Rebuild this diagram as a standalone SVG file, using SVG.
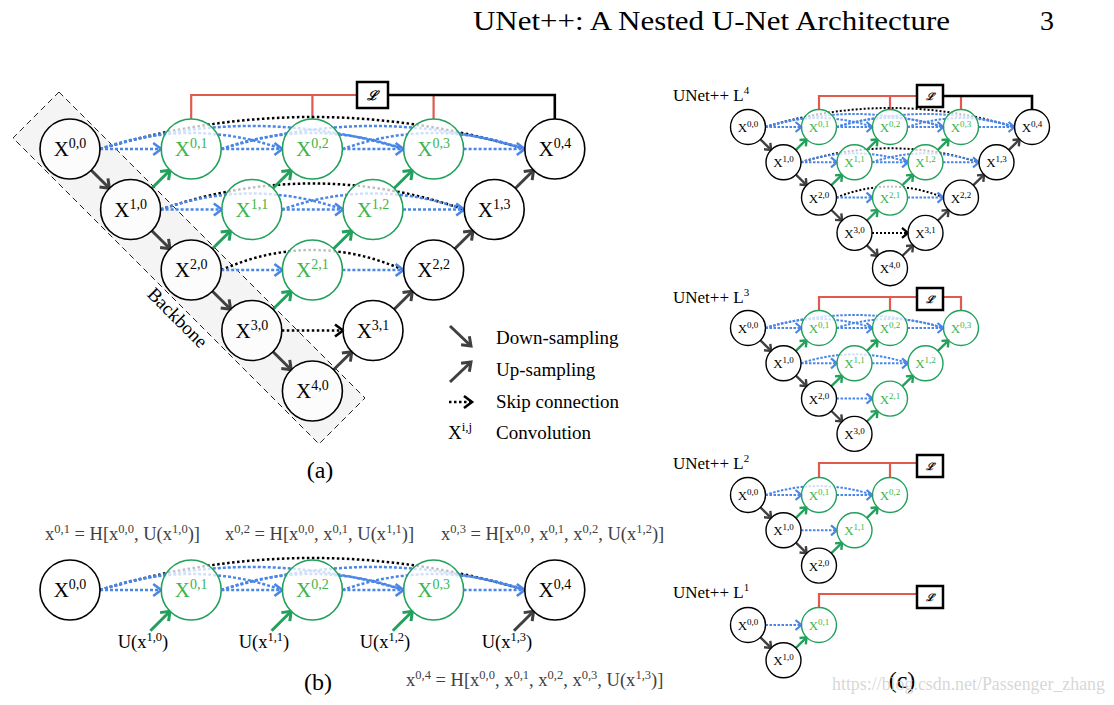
<svg xmlns="http://www.w3.org/2000/svg" width="1114" height="705" viewBox="0 0 1114 705">
<defs>
<style>
text{font-family:"Liberation Serif","Times New Roman",serif}
.nb{fill:#fff;fill-opacity:.75;stroke:#000;stroke-width:1.6}
.ng{fill:#fff;fill-opacity:.75;stroke:#22a05c;stroke-width:1.6}
.nbs{fill:#fff;fill-opacity:.75;stroke:#000;stroke-width:1.4}
.ngs{fill:#fff;fill-opacity:.75;stroke:#22a05c;stroke-width:1.4}
.lk{fill:#000;font-size:21px;text-anchor:middle}
.lg{fill:#3cb44a;font-size:21px;text-anchor:middle}
.sk{fill:#000;font-size:13px;text-anchor:middle}
.sg{fill:#3cb44a;font-size:13px;text-anchor:middle}
.dn{stroke:#404040;stroke-width:3;fill:none;marker-end:url(#mD)}
.ug{stroke:#22a05c;stroke-width:3;fill:none;marker-end:url(#mG)}
.sbl{stroke:#4a86e8;stroke-width:2.5;stroke-dasharray:3 2;fill:none}
.sba{stroke:#4a86e8;stroke-width:2.5;stroke-dasharray:3 2;fill:none;marker-end:url(#mB)}
.skl{stroke:#000;stroke-width:2.5;stroke-dasharray:2.5 2.5;fill:none}
.ska{stroke:#000;stroke-width:2.5;stroke-dasharray:2.5 2.5;fill:none;marker-end:url(#mK)}
.dns{stroke:#404040;stroke-width:2.4;fill:none;marker-end:url(#sD)}
.ugs{stroke:#22a05c;stroke-width:2.4;fill:none;marker-end:url(#sG)}
.sbs{stroke:#4a86e8;stroke-width:2;stroke-dasharray:2.5 1.5;fill:none}
.sbsa{stroke:#4a86e8;stroke-width:2;stroke-dasharray:2.5 1.5;fill:none;marker-end:url(#sB)}
.sks{stroke:#000;stroke-width:2;stroke-dasharray:2 2;fill:none}
.sksa{stroke:#000;stroke-width:2;stroke-dasharray:2 2;fill:none;marker-end:url(#sK)}
.red{stroke:#e05a4f;stroke-width:2.2;fill:none}
.blk{stroke:#000;stroke-width:2.6;fill:none}
.box{fill:#fff;stroke:#000;stroke-width:2.5}
.ll{font-family:"DejaVu Serif",serif;font-style:italic;font-weight:bold;text-anchor:middle;fill:#000}
.eq{fill:#404040;font-size:18.5px}
.ul{fill:#000;font-size:18.5px;text-anchor:middle}
.lgd{fill:#000;font-size:19px}
.cap{fill:#000;font-size:24px;text-anchor:middle}
.un{fill:#000;font-size:17px}
.hd{fill:#000;font-size:28px;font-family:"Liberation Serif","Times New Roman",serif}
</style>
<marker id="mD" viewBox="-11 -8 13 16" markerWidth="13" markerHeight="16" refX="0" refY="0" orient="auto" markerUnits="userSpaceOnUse" overflow="visible"><path d="M-8,-6 L0,0 L-8,6" fill="none" stroke="#404040" stroke-width="3"/></marker>
<marker id="mG" viewBox="-11 -8 13 16" markerWidth="13" markerHeight="16" refX="0" refY="0" orient="auto" markerUnits="userSpaceOnUse" overflow="visible"><path d="M-8,-6 L0,0 L-8,6" fill="none" stroke="#22a05c" stroke-width="3"/></marker>
<marker id="mB" viewBox="-11 -8 13 16" markerWidth="13" markerHeight="16" refX="0" refY="0" orient="auto" markerUnits="userSpaceOnUse" overflow="visible"><path d="M-8,-6 L0,0 L-8,6" fill="none" stroke="#4a86e8" stroke-width="2.6"/></marker>
<marker id="mK" viewBox="-11 -8 13 16" markerWidth="13" markerHeight="16" refX="0" refY="0" orient="auto" markerUnits="userSpaceOnUse" overflow="visible"><path d="M-8,-6 L0,0 L-8,6" fill="none" stroke="#000" stroke-width="2.6"/></marker>
<marker id="sD" viewBox="-8 -6 10 12" markerWidth="10" markerHeight="12" refX="0" refY="0" orient="auto" markerUnits="userSpaceOnUse" overflow="visible"><path d="M-5.5,-4.5 L0,0 L-5.5,4.5" fill="none" stroke="#404040" stroke-width="2.4"/></marker>
<marker id="sG" viewBox="-8 -6 10 12" markerWidth="10" markerHeight="12" refX="0" refY="0" orient="auto" markerUnits="userSpaceOnUse" overflow="visible"><path d="M-5.5,-4.5 L0,0 L-5.5,4.5" fill="none" stroke="#22a05c" stroke-width="2.4"/></marker>
<marker id="sB" viewBox="-8 -6 10 12" markerWidth="10" markerHeight="12" refX="0" refY="0" orient="auto" markerUnits="userSpaceOnUse" overflow="visible"><path d="M-6,-5 L0,0 L-6,5" fill="none" stroke="#4a86e8" stroke-width="2.2"/></marker>
<marker id="sK" viewBox="-8 -6 10 12" markerWidth="10" markerHeight="12" refX="0" refY="0" orient="auto" markerUnits="userSpaceOnUse" overflow="visible"><path d="M-6,-5 L0,0 L-6,5" fill="none" stroke="#000" stroke-width="2.2"/></marker>
</defs>
<rect width="1114" height="705" fill="#fff"/>

<!-- header -->
<text class="hd" x="473" y="30" textLength="477" lengthAdjust="spacingAndGlyphs">UNet++: A Nested U-Net Architecture</text>
<text class="hd" x="1040" y="30">3</text>

<!-- (a) backbone -->
<g id="backbone">
<polygon points="59,92 365,398 319,444 13,138" fill="#f4f4f4" stroke="#222" stroke-width="1" stroke-dasharray="6 4"/>
<text transform="translate(173,322) rotate(45)" font-size="19" text-anchor="middle" fill="#000">Backbone</text>
</g>

<!-- (a) loss -->
<g id="a-loss">
<path class="red" d="M191.2,119 V95 H357 M312.4,95 V119 M433.6,96 V119"/>
<path class="blk" d="M388,95 H554.8 V119"/>
<rect class="box" x="357" y="82" width="31" height="26"/>
<text class="ll" x="372.5" y="100" font-size="13">ℒ</text>
</g>

<g id="a-connectors">
<!-- row 0 -->
<path class="skl" d="M100,149 Q312.4,85 524.8,149"/>
<path class="sbl" d="M100,149 Q251.8,103 403.6,149"/>
<path class="sbl" d="M221.2,149 Q373,103 524.8,149"/>
<path class="sbl" d="M100,149 Q191.2,117 282.4,149"/>
<path class="sbl" d="M221.2,149 Q312.4,117 403.6,149"/>
<path class="sbl" d="M342.4,149 Q433.6,117 524.8,149"/>
<path class="sba" d="M100,149 H161.2"/>
<path class="sba" d="M221.2,149 H282.4"/>
<path class="sba" d="M342.4,149 H403.6"/>
<path class="sba" d="M463.6,149 H524.8"/>
<!-- row 1 -->
<path class="skl" d="M160.6,209.5 Q312.4,157.5 464.2,209.5"/>
<path class="sbl" d="M160.6,209.5 Q251.8,177.5 343,209.5"/>
<path class="sbl" d="M281.8,209.5 Q373,177.5 464.2,209.5"/>
<path class="sba" d="M160.6,209.5 H221.8"/>
<path class="sba" d="M281.8,209.5 H343"/>
<path class="sba" d="M403,209.5 H464.2"/>
<!-- row 2 -->
<path class="skl" d="M221.2,270 Q312.4,230 403.6,270"/>
<path class="sba" d="M221.2,270 H282.4"/>
<path class="sba" d="M342.4,270 H403.6"/>
<!-- row 3 -->
<path class="ska" d="M281.8,330.5 H343"/>
<!-- down -->
<path class="dn" d="M91.2,170.2 L109.4,188.3"/>
<path class="dn" d="M151.8,230.7 L170,248.8"/>
<path class="dn" d="M212.4,291.2 L230.6,309.3"/>
<path class="dn" d="M273,351.7 L291.2,369.8"/>
<!-- up green -->
<path class="ug" d="M151.8,188.3 L170,170.2"/>
<path class="ug" d="M212.4,248.8 L230.6,230.7"/>
<path class="ug" d="M273,188.3 L291.2,170.2"/>
<path class="ug" d="M273,309.3 L291.2,291.2"/>
<path class="ug" d="M333.6,248.8 L351.8,230.7"/>
<path class="ug" d="M394.2,188.3 L412.4,170.2"/>
<!-- up gray -->
<path class="dn" d="M333.6,369.8 L351.8,351.7"/>
<path class="dn" d="M394.2,309.3 L412.4,291.2"/>
<path class="dn" d="M454.8,248.8 L473,230.7"/>
<path class="dn" d="M515.4,188.3 L533.6,170.2"/>
</g>

<g id="a-x00"><circle class="nb" cx="70" cy="149" r="30"/><text class="lk" x="70" y="156">X<tspan dy="-8" font-size="14">0,0</tspan></text></g>
<g id="a-x10"><circle class="nb" cx="130.6" cy="209.5" r="30"/><text class="lk" x="130.6" y="216.5">X<tspan dy="-8" font-size="14">1,0</tspan></text></g>
<g id="a-x20"><circle class="nb" cx="191.2" cy="270" r="30"/><text class="lk" x="191.2" y="277">X<tspan dy="-8" font-size="14">2,0</tspan></text></g>
<g id="a-x30"><circle class="nb" cx="251.8" cy="330.5" r="30"/><text class="lk" x="251.8" y="337.5">X<tspan dy="-8" font-size="14">3,0</tspan></text></g>
<g id="a-x40"><circle class="nb" cx="312.4" cy="391" r="30"/><text class="lk" x="312.4" y="398">X<tspan dy="-8" font-size="14">4,0</tspan></text></g>
<g id="a-x01"><circle class="ng" cx="191.2" cy="149" r="30"/><text class="lg" x="191.2" y="156">X<tspan dy="-8" font-size="14">0,1</tspan></text></g>
<g id="a-x02"><circle class="ng" cx="312.4" cy="149" r="30"/><text class="lg" x="312.4" y="156">X<tspan dy="-8" font-size="14">0,2</tspan></text></g>
<g id="a-x03"><circle class="ng" cx="433.6" cy="149" r="30"/><text class="lg" x="433.6" y="156">X<tspan dy="-8" font-size="14">0,3</tspan></text></g>
<g id="a-x04"><circle class="nb" cx="554.8" cy="149" r="30"/><text class="lk" x="554.8" y="156">X<tspan dy="-8" font-size="14">0,4</tspan></text></g>
<g id="a-x11"><circle class="ng" cx="251.8" cy="209.5" r="30"/><text class="lg" x="251.8" y="216.5">X<tspan dy="-8" font-size="14">1,1</tspan></text></g>
<g id="a-x12"><circle class="ng" cx="373" cy="209.5" r="30"/><text class="lg" x="373" y="216.5">X<tspan dy="-8" font-size="14">1,2</tspan></text></g>
<g id="a-x13"><circle class="nb" cx="494.2" cy="209.5" r="30"/><text class="lk" x="494.2" y="216.5">X<tspan dy="-8" font-size="14">1,3</tspan></text></g>
<g id="a-x21"><circle class="ng" cx="312.4" cy="270" r="30"/><text class="lg" x="312.4" y="277">X<tspan dy="-8" font-size="14">2,1</tspan></text></g>
<g id="a-x22"><circle class="nb" cx="433.6" cy="270" r="30"/><text class="lk" x="433.6" y="277">X<tspan dy="-8" font-size="14">2,2</tspan></text></g>
<g id="a-x31"><circle class="nb" cx="373" cy="330.5" r="30"/><text class="lk" x="373" y="337.5">X<tspan dy="-8" font-size="14">3,1</tspan></text></g>

<!-- legend -->
<g id="legend">
<path class="dn" d="M450,326 L471,346"/>
<text class="lgd" x="496" y="344">Down-sampling</text>
<path class="dn" d="M450,382 L471,362"/>
<text class="lgd" x="496" y="376">Up-sampling</text>
<path class="ska" d="M449,402 H472"/>
<text class="lgd" x="496" y="408">Skip connection</text>
<text class="lgd" x="448" y="439">X<tspan dy="-8" font-size="13">i,j</tspan></text>
<text class="lgd" x="496" y="439">Convolution</text>
</g>
<text class="cap" x="320" y="478">(a)</text>

<!-- (b) -->
<g id="b-equations">
<text class="eq" x="45" y="540">x<tspan dy="-7" font-size="12.5">0,1</tspan><tspan dy="7"> = H[x</tspan><tspan dy="-7" font-size="12.5">0,0</tspan><tspan dy="7">, U(x</tspan><tspan dy="-7" font-size="12.5">1,0</tspan><tspan dy="7">)]</tspan></text>
<text class="eq" x="225" y="540">x<tspan dy="-7" font-size="12.5">0,2</tspan><tspan dy="7"> = H[x</tspan><tspan dy="-7" font-size="12.5">0,0</tspan><tspan dy="7">, x</tspan><tspan dy="-7" font-size="12.5">0,1</tspan><tspan dy="7">, U(x</tspan><tspan dy="-7" font-size="12.5">1,1</tspan><tspan dy="7">)]</tspan></text>
<text class="eq" x="441" y="540">x<tspan dy="-7" font-size="12.5">0,3</tspan><tspan dy="7"> = H[x</tspan><tspan dy="-7" font-size="12.5">0,0</tspan><tspan dy="7">, x</tspan><tspan dy="-7" font-size="12.5">0,1</tspan><tspan dy="7">, x</tspan><tspan dy="-7" font-size="12.5">0,2</tspan><tspan dy="7">, U(x</tspan><tspan dy="-7" font-size="12.5">1,2</tspan><tspan dy="7">)]</tspan></text>
<text class="eq" x="406" y="686">x<tspan dy="-7" font-size="12.5">0,4</tspan><tspan dy="7"> = H[x</tspan><tspan dy="-7" font-size="12.5">0,0</tspan><tspan dy="7">, x</tspan><tspan dy="-7" font-size="12.5">0,1</tspan><tspan dy="7">, x</tspan><tspan dy="-7" font-size="12.5">0,2</tspan><tspan dy="7">, x</tspan><tspan dy="-7" font-size="12.5">0,3</tspan><tspan dy="7">, U(x</tspan><tspan dy="-7" font-size="12.5">1,3</tspan><tspan dy="7">)]</tspan></text>
</g>
<g id="b-connectors">
<path class="skl" d="M100,590 Q312.4,526 524.8,590"/>
<path class="sbl" d="M100,590 Q251.8,544 403.6,590"/>
<path class="sbl" d="M221.2,590 Q373,544 524.8,590"/>
<path class="sbl" d="M100,590 Q191.2,558 282.4,590"/>
<path class="sbl" d="M221.2,590 Q312.4,558 403.6,590"/>
<path class="sbl" d="M342.4,590 Q433.6,558 524.8,590"/>
<path class="sba" d="M100,590 H161.2"/>
<path class="sba" d="M221.2,590 H282.4"/>
<path class="sba" d="M342.4,590 H403.6"/>
<path class="sba" d="M463.6,590 H524.8"/>
<path class="ug" d="M150.4,630.8 L170,611.2"/>
<path class="ug" d="M271.6,630.8 L291.2,611.2"/>
<path class="ug" d="M392.8,630.8 L412.4,611.2"/>
<path class="dn" d="M514,630.8 L533.6,611.2"/>
</g>
<g id="b-x00"><circle class="nb" cx="70" cy="590" r="30"/><text class="lk" x="70" y="597">X<tspan dy="-8" font-size="14">0,0</tspan></text></g>
<g id="b-x01"><circle class="ng" cx="191.2" cy="590" r="30"/><text class="lg" x="191.2" y="597">X<tspan dy="-8" font-size="14">0,1</tspan></text></g>
<g id="b-x02"><circle class="ng" cx="312.4" cy="590" r="30"/><text class="lg" x="312.4" y="597">X<tspan dy="-8" font-size="14">0,2</tspan></text></g>
<g id="b-x03"><circle class="ng" cx="433.6" cy="590" r="30"/><text class="lg" x="433.6" y="597">X<tspan dy="-8" font-size="14">0,3</tspan></text></g>
<g id="b-x04"><circle class="nb" cx="554.8" cy="590" r="30"/><text class="lk" x="554.8" y="597">X<tspan dy="-8" font-size="14">0,4</tspan></text></g>
<g id="b-ulabels">
<text class="ul" x="143" y="648">U(x<tspan dy="-7" font-size="12.5">1,0</tspan><tspan dy="7">)</tspan></text>
<text class="ul" x="264" y="648">U(x<tspan dy="-7" font-size="12.5">1,1</tspan><tspan dy="7">)</tspan></text>
<text class="ul" x="385" y="648">U(x<tspan dy="-7" font-size="12.5">1,2</tspan><tspan dy="7">)</tspan></text>
<text class="ul" x="507" y="648">U(x<tspan dy="-7" font-size="12.5">1,3</tspan><tspan dy="7">)</tspan></text>
</g>
<text class="cap" x="318" y="690">(b)</text>

<!-- (c) L4 -->
<text class="un" x="673" y="101">UNet++ L<tspan dy="-7" font-size="11">4</tspan></text>
<g id="c4-loss">
<path class="red" d="M819,109.5 V96 H917 M890,96 V109.5 M961,97 V109.5"/>
<path class="blk" d="M943,96 H1032 V109.5"/>
<rect class="box" x="917" y="85" width="26" height="22"/>
<text class="ll" x="930" y="100" font-size="10">ℒ</text>
</g>
<g id="c4-connectors">
<path class="sks" d="M765.5,127 Q890,89 1014.5,127"/>
<path class="sbs" d="M765.5,127 Q854.5,101 943.5,127"/>
<path class="sbs" d="M836.5,127 Q925.5,101 1014.5,127"/>
<path class="sbs" d="M765.5,127 Q819,109 872.5,127"/>
<path class="sbs" d="M836.5,127 Q890,109 943.5,127"/>
<path class="sbs" d="M907.5,127 Q961,109 1014.5,127"/>
<path class="sbsa" d="M765.5,127 H801.5"/>
<path class="sbsa" d="M836.5,127 H872.5"/>
<path class="sbsa" d="M907.5,127 H943.5"/>
<path class="sbsa" d="M978.5,127 H1014.5"/>
<path class="sks" d="M801,162.3 Q890,134.3 979,162.3"/>
<path class="sbs" d="M801,162.3 Q854.5,144.3 908,162.3"/>
<path class="sbs" d="M872,162.3 Q925.5,144.3 979,162.3"/>
<path class="sbsa" d="M801,162.3 H837"/>
<path class="sbsa" d="M872,162.3 H908"/>
<path class="sbsa" d="M943,162.3 H979"/>
<path class="sks" d="M836.5,197.6 Q890,175.6 943.5,197.6"/>
<path class="sbsa" d="M836.5,197.6 H872.5"/>
<path class="sbsa" d="M907.5,197.6 H943.5"/>
<path class="sksa" d="M872,232.9 H908"/>
<path class="dns" d="M760.4,139.4 L771.1,149.9"/>
<path class="dns" d="M795.9,174.7 L806.6,185.2"/>
<path class="dns" d="M831.4,210 L842.1,220.5"/>
<path class="dns" d="M866.9,245.3 L877.6,255.8"/>
<path class="ugs" d="M795.9,149.9 L806.6,139.4"/>
<path class="ugs" d="M831.4,185.2 L842.1,174.7"/>
<path class="ugs" d="M866.9,149.9 L877.6,139.4"/>
<path class="ugs" d="M866.9,220.5 L877.6,210"/>
<path class="ugs" d="M902.4,185.2 L913.1,174.7"/>
<path class="ugs" d="M937.9,149.9 L948.6,139.4"/>
<path class="dns" d="M902.4,255.8 L913.1,245.3"/>
<path class="dns" d="M937.9,220.5 L948.6,210"/>
<path class="dns" d="M973.4,185.2 L984.1,174.7"/>
<path class="dns" d="M1008.9,149.9 L1019.6,139.4"/>
</g>
<g id="c4-x00"><circle class="nbs" cx="748" cy="127" r="17.5"/><text class="sk" x="748" y="132">X<tspan dy="-5" font-size="9">0,0</tspan></text></g>
<g id="c4-x01"><circle class="ngs" cx="819" cy="127" r="17.5"/><text class="sg" x="819" y="132">X<tspan dy="-5" font-size="9">0,1</tspan></text></g>
<g id="c4-x02"><circle class="ngs" cx="890" cy="127" r="17.5"/><text class="sg" x="890" y="132">X<tspan dy="-5" font-size="9">0,2</tspan></text></g>
<g id="c4-x03"><circle class="ngs" cx="961" cy="127" r="17.5"/><text class="sg" x="961" y="132">X<tspan dy="-5" font-size="9">0,3</tspan></text></g>
<g id="c4-x04"><circle class="nbs" cx="1032" cy="127" r="17.5"/><text class="sk" x="1032" y="132">X<tspan dy="-5" font-size="9">0,4</tspan></text></g>
<g id="c4-x10"><circle class="nbs" cx="783.5" cy="162.3" r="17.5"/><text class="sk" x="783.5" y="167.3">X<tspan dy="-5" font-size="9">1,0</tspan></text></g>
<g id="c4-x11"><circle class="ngs" cx="854.5" cy="162.3" r="17.5"/><text class="sg" x="854.5" y="167.3">X<tspan dy="-5" font-size="9">1,1</tspan></text></g>
<g id="c4-x12"><circle class="ngs" cx="925.5" cy="162.3" r="17.5"/><text class="sg" x="925.5" y="167.3">X<tspan dy="-5" font-size="9">1,2</tspan></text></g>
<g id="c4-x13"><circle class="nbs" cx="996.5" cy="162.3" r="17.5"/><text class="sk" x="996.5" y="167.3">X<tspan dy="-5" font-size="9">1,3</tspan></text></g>
<g id="c4-x20"><circle class="nbs" cx="819" cy="197.6" r="17.5"/><text class="sk" x="819" y="202.6">X<tspan dy="-5" font-size="9">2,0</tspan></text></g>
<g id="c4-x21"><circle class="ngs" cx="890" cy="197.6" r="17.5"/><text class="sg" x="890" y="202.6">X<tspan dy="-5" font-size="9">2,1</tspan></text></g>
<g id="c4-x22"><circle class="nbs" cx="961" cy="197.6" r="17.5"/><text class="sk" x="961" y="202.6">X<tspan dy="-5" font-size="9">2,2</tspan></text></g>
<g id="c4-x30"><circle class="nbs" cx="854.5" cy="232.9" r="17.5"/><text class="sk" x="854.5" y="237.9">X<tspan dy="-5" font-size="9">3,0</tspan></text></g>
<g id="c4-x31"><circle class="nbs" cx="925.5" cy="232.9" r="17.5"/><text class="sk" x="925.5" y="237.9">X<tspan dy="-5" font-size="9">3,1</tspan></text></g>
<g id="c4-x40"><circle class="nbs" cx="890" cy="268.2" r="17.5"/><text class="sk" x="890" y="273.2">X<tspan dy="-5" font-size="9">4,0</tspan></text></g>

<!-- (c) L3 -->
<text class="un" x="673" y="303">UNet++ L<tspan dy="-7" font-size="11">3</tspan></text>
<g id="c3-loss">
<path class="red" d="M819,310.5 V297 H961 V310.5 M890,297 V310.5"/>
<rect class="box" x="917" y="288" width="26" height="22"/>
<text class="ll" x="930" y="303" font-size="10">ℒ</text>
</g>
<g id="c3-connectors">
<path class="sbs" d="M765.5,328 Q854.5,302 943.5,328"/>
<path class="sbs" d="M765.5,328 Q819,310 872.5,328"/>
<path class="sbs" d="M836.5,328 Q890,310 943.5,328"/>
<path class="sbsa" d="M765.5,328 H801.5"/>
<path class="sbsa" d="M836.5,328 H872.5"/>
<path class="sbsa" d="M907.5,328 H943.5"/>
<path class="sbs" d="M801,363.3 Q854.5,345.3 908,363.3"/>
<path class="sbsa" d="M801,363.3 H837"/>
<path class="sbsa" d="M872,363.3 H908"/>
<path class="sbsa" d="M836.5,398.6 H872.5"/>
<path class="dns" d="M760.4,340.4 L771.1,350.9"/>
<path class="dns" d="M795.9,375.7 L806.6,386.2"/>
<path class="dns" d="M831.4,411 L842.1,421.5"/>
<path class="ugs" d="M795.9,350.9 L806.6,340.4"/>
<path class="ugs" d="M831.4,386.2 L842.1,375.7"/>
<path class="ugs" d="M866.9,350.9 L877.6,340.4"/>
<path class="ugs" d="M866.9,421.5 L877.6,411"/>
<path class="ugs" d="M902.4,386.2 L913.1,375.7"/>
<path class="ugs" d="M937.9,350.9 L948.6,340.4"/>
</g>
<g id="c3-x00"><circle class="nbs" cx="748" cy="328" r="17.5"/><text class="sk" x="748" y="333">X<tspan dy="-5" font-size="9">0,0</tspan></text></g>
<g id="c3-x01"><circle class="ngs" cx="819" cy="328" r="17.5"/><text class="sg" x="819" y="333">X<tspan dy="-5" font-size="9">0,1</tspan></text></g>
<g id="c3-x02"><circle class="ngs" cx="890" cy="328" r="17.5"/><text class="sg" x="890" y="333">X<tspan dy="-5" font-size="9">0,2</tspan></text></g>
<g id="c3-x03"><circle class="ngs" cx="961" cy="328" r="17.5"/><text class="sg" x="961" y="333">X<tspan dy="-5" font-size="9">0,3</tspan></text></g>
<g id="c3-x10"><circle class="nbs" cx="783.5" cy="363.3" r="17.5"/><text class="sk" x="783.5" y="368.3">X<tspan dy="-5" font-size="9">1,0</tspan></text></g>
<g id="c3-x11"><circle class="ngs" cx="854.5" cy="363.3" r="17.5"/><text class="sg" x="854.5" y="368.3">X<tspan dy="-5" font-size="9">1,1</tspan></text></g>
<g id="c3-x12"><circle class="ngs" cx="925.5" cy="363.3" r="17.5"/><text class="sg" x="925.5" y="368.3">X<tspan dy="-5" font-size="9">1,2</tspan></text></g>
<g id="c3-x20"><circle class="nbs" cx="819" cy="398.6" r="17.5"/><text class="sk" x="819" y="403.6">X<tspan dy="-5" font-size="9">2,0</tspan></text></g>
<g id="c3-x21"><circle class="ngs" cx="890" cy="398.6" r="17.5"/><text class="sg" x="890" y="403.6">X<tspan dy="-5" font-size="9">2,1</tspan></text></g>
<g id="c3-x30"><circle class="nbs" cx="854.5" cy="433.9" r="17.5"/><text class="sk" x="854.5" y="438.9">X<tspan dy="-5" font-size="9">3,0</tspan></text></g>

<!-- (c) L2 -->
<text class="un" x="673" y="469">UNet++ L<tspan dy="-7" font-size="11">2</tspan></text>
<g id="c2-loss">
<path class="red" d="M819,477.5 V463 H917 M890,463 V477.5"/>
<rect class="box" x="917" y="455" width="26" height="22"/>
<text class="ll" x="930" y="470" font-size="10">ℒ</text>
</g>
<g id="c2-connectors">
<path class="sbs" d="M765.5,495 Q819,477 872.5,495"/>
<path class="sbsa" d="M765.5,495 H801.5"/>
<path class="sbsa" d="M836.5,495 H872.5"/>
<path class="sbsa" d="M801,530.3 H837"/>
<path class="dns" d="M760.4,507.4 L771.1,517.9"/>
<path class="dns" d="M795.9,542.7 L806.6,553.2"/>
<path class="ugs" d="M795.9,517.9 L806.6,507.4"/>
<path class="ugs" d="M831.4,553.2 L842.1,542.7"/>
<path class="ugs" d="M866.9,517.9 L877.6,507.4"/>
</g>
<g id="c2-x00"><circle class="nbs" cx="748" cy="495" r="17.5"/><text class="sk" x="748" y="500">X<tspan dy="-5" font-size="9">0,0</tspan></text></g>
<g id="c2-x01"><circle class="ngs" cx="819" cy="495" r="17.5"/><text class="sg" x="819" y="500">X<tspan dy="-5" font-size="9">0,1</tspan></text></g>
<g id="c2-x02"><circle class="ngs" cx="890" cy="495" r="17.5"/><text class="sg" x="890" y="500">X<tspan dy="-5" font-size="9">0,2</tspan></text></g>
<g id="c2-x10"><circle class="nbs" cx="783.5" cy="530.3" r="17.5"/><text class="sk" x="783.5" y="535.3">X<tspan dy="-5" font-size="9">1,0</tspan></text></g>
<g id="c2-x11"><circle class="ngs" cx="854.5" cy="530.3" r="17.5"/><text class="sg" x="854.5" y="535.3">X<tspan dy="-5" font-size="9">1,1</tspan></text></g>
<g id="c2-x20"><circle class="nbs" cx="819" cy="565.6" r="17.5"/><text class="sk" x="819" y="570.6">X<tspan dy="-5" font-size="9">2,0</tspan></text></g>

<!-- (c) L1 -->
<text class="un" x="673" y="598">UNet++ L<tspan dy="-7" font-size="11">1</tspan></text>
<g id="c1-loss">
<path class="red" d="M819,607.5 V594 H917"/>
<rect class="box" x="917" y="586" width="26" height="22"/>
<text class="ll" x="930" y="601" font-size="10">ℒ</text>
</g>
<g id="c1-connectors">
<path class="sbsa" d="M765.5,625 H801.5"/>
<path class="dns" d="M760.4,637.4 L771.1,647.9"/>
<path class="ugs" d="M795.9,647.9 L806.6,637.4"/>
</g>
<g id="c1-x00"><circle class="nbs" cx="748" cy="625" r="17.5"/><text class="sk" x="748" y="630">X<tspan dy="-5" font-size="9">0,0</tspan></text></g>
<g id="c1-x01"><circle class="ngs" cx="819" cy="625" r="17.5"/><text class="sg" x="819" y="630">X<tspan dy="-5" font-size="9">0,1</tspan></text></g>
<g id="c1-x10"><circle class="nbs" cx="783.5" cy="660.3" r="17.5"/><text class="sk" x="783.5" y="665.3">X<tspan dy="-5" font-size="9">1,0</tspan></text></g>

<text class="cap" x="902" y="688">(c)</text>
<text x="832" y="690" font-family="Liberation Sans, Arial, sans-serif" font-size="18" fill="#cfcfcf" fill-opacity="0.85" textLength="273" lengthAdjust="spacingAndGlyphs">https://blog.csdn.net/Passenger_zhang</text>
</svg>
